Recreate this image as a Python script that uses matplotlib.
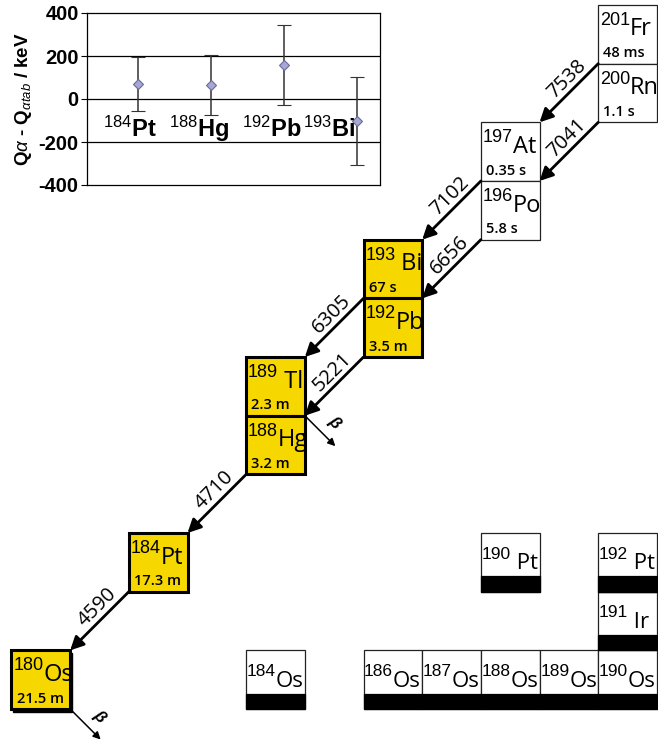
import matplotlib
matplotlib.use('Agg')
import matplotlib.pyplot as plt
from matplotlib.patches import Rectangle, FancyArrowPatch

plt.rcParams['font.family'] = ['Liberation Sans', 'DejaVu Sans']
plt.rcParams['mathtext.fontset'] = 'custom'
plt.rcParams['mathtext.rm'] = 'Liberation Sans'
plt.rcParams['mathtext.it'] = 'Liberation Sans:italic'
plt.rcParams['mathtext.bf'] = 'Liberation Sans:bold'
plt.rcParams['axes.unicode_minus'] = False

# ---------------- data ----------------
# alpha-decay chain nuclides
chain_A = [201, 200, 197, 196, 193, 192, 189, 188, 184, 180]
chain_Z = [87, 86, 85, 84, 83, 82, 81, 80, 78, 76]
chain_sym = ['Fr', 'Rn', 'At', 'Po', ' Bi', 'Pb', ' Tl', 'Hg', 'Pt', 'Os']
chain_halflife = ['48 ms', '1.1 s', '0.35 s', '5.8 s', '67 s', '3.5 m',
                  '2.3 m', '3.2 m', '17.3 m', '21.5 m']
chain_measured = [False, False, False, False, True, True, True, True, True, True]

# alpha decays: parent (A, Z) and Q value (keV)
alpha_parent_A = [201, 200, 197, 196, 193, 192, 188, 184]
alpha_parent_Z = [87, 86, 85, 84, 83, 82, 80, 78]
alpha_Q = [7538, 7041, 7102, 6656, 6305, 5221, 4710, 4590]

# beta emitters (A, Z)
beta_A = [189, 180]
beta_Z = [81, 76]

# stable nuclides
stable_A = [184, 186, 187, 188, 189, 190, 191, 190, 192]
stable_Z = [76, 76, 76, 76, 76, 76, 77, 78, 78]
stable_sym = ['Os', 'Os', 'Os', 'Os', 'Os', 'Os', ' Ir', ' Pt', ' Pt']

# inset: Q_alpha - Q_alpha,tab
inset_A = [184, 188, 192, 193]
inset_sym = ['Pt', 'Hg', 'Pb', 'Bi']
inset_x = [1, 2, 3, 4]
inset_dQ = [70, 65, 158, -103]
inset_err = [125, 140, 188, 205]
inset_label_x = [0.89, 1.84, 2.84, 3.62]

# ---------------- figure ----------------
fig = plt.figure(figsize=(6.58, 7.40), dpi=100)
ax = fig.add_axes([0, 0, 1, 1])
ax.set_xlim(103.804, 115.019)
ax.set_ylim(75.472, 88.085)
ax.axis('off')

YELLOW = '#F6D700'
SYMFONT = ['Open Sans', 'DejaVu Sans']


def nuclide_label(N, Z, A, sym, base, xoff=0.03, msize=13, ssize=17):
    mass = ax.text(N + xoff, Z + base + 0.18, str(A), fontsize=msize,
                   ha='left', va='baseline', zorder=4)
    ax.annotate(sym, xy=(1, Z + base), xycoords=(mass, 'data'), fontsize=ssize,
                family=SYMFONT, ha='left', va='baseline', zorder=4,
                annotation_clip=False)


for A, Z, sym, t, meas in zip(chain_A, chain_Z, chain_sym, chain_halflife, chain_measured):
    N = A - Z
    if meas:
        if A == 180:
            ax.add_patch(Rectangle((N + 0.03, Z - 0.05), 1, 1, facecolor='black',
                                   edgecolor='black', lw=1, zorder=1))
        ax.add_patch(Rectangle((N, Z), 1, 1, facecolor=YELLOW, edgecolor='black',
                               lw=2.2, zorder=2))
    else:
        ax.add_patch(Rectangle((N, Z), 1, 1, facecolor='white', edgecolor='#222222',
                               lw=0.9, zorder=2))
    nuclide_label(N, Z, A, sym, 0.48)
    ax.text(N + 0.09, Z + 0.11, t, fontsize=10.5, family=SYMFONT, weight='semibold',
            ha='left', va='baseline', zorder=4)

for A, Z, sym in zip(stable_A, stable_Z, stable_sym):
    N = A - Z
    ax.add_patch(Rectangle((N, Z), 1, 1, facecolor='white', edgecolor='#222222',
                           lw=0.9, zorder=2))
    ax.add_patch(Rectangle((N, Z), 1, 0.26, facecolor='black', edgecolor='black',
                           lw=0.9, zorder=3))
    nuclide_label(N, Z, A, sym, 0.38, xoff=0.01, msize=12.5, ssize=16)

for A, Z, Q in zip(alpha_parent_A, alpha_parent_Z, alpha_Q):
    N = A - Z
    start = (N, Z)
    end = (N - 1, Z - 1)
    ax.add_patch(FancyArrowPatch(start, end, arrowstyle='-|>', mutation_scale=20,
                                 lw=2, color='black', shrinkA=0, shrinkB=0, zorder=5))
    mid = (N - 0.5, Z - 0.5)
    ax.annotate(str(Q), xy=mid, xytext=(-1.5, 10), textcoords='offset points',
                rotation=45, ha='center', va='center', fontsize=14.5, family=SYMFONT,
                zorder=6)

for A, Z in zip(beta_A, beta_Z):
    N = A - Z
    start = (N + 1, Z)
    end = (N + 1.52, Z - 0.52)
    ax.add_patch(FancyArrowPatch(start, end, arrowstyle='-|>', mutation_scale=11,
                                 lw=1.1, color='black', shrinkA=0, shrinkB=0, zorder=5))
    ax.text(N + 1.5, Z - 0.12, 'β', rotation=-45, ha='center', va='center',
            fontsize=12, weight='bold', style='italic', zorder=6)

# ---------------- inset ----------------
axi = fig.add_axes([87 / 658, 1 - 185 / 740, 293 / 658, 172 / 740])
axi.set_xlim(0.3, 4.32)
axi.set_ylim(-400, 400)
axi.set_xticks([])
axi.set_yticks([-400, -200, 0, 200, 400])
axi.tick_params(axis='y', length=4, width=0.8, labelsize=14.5, pad=2)
for lab in axi.get_yticklabels():
    lab.set_fontweight('bold')
for yv in (-200, 0, 200):
    axi.axhline(yv, color='black', lw=0.9, zorder=1)
for s in axi.spines.values():
    s.set_linewidth(0.9)
axi.errorbar(inset_x, inset_dQ, yerr=inset_err, fmt='D', ms=5, mfc='#A7A7D6',
             mec='#6A6A9A', mew=0.8, ecolor='#333333', elinewidth=1.1, capsize=5,
             capthick=1.1, zorder=3)
for xl, A, sym in zip(inset_label_x, inset_A, inset_sym):
    axi.text(xl, -178, rf'$^{{{A}}}${sym}', fontsize=17, weight='bold',
             ha='center', va='baseline', zorder=4)
axi.set_ylabel(r'Q$\alpha$ - Q$_{\alpha tab}$ / keV', fontsize=13.5, weight='bold',
               labelpad=3)

fig.savefig('out.png', dpi=100)
